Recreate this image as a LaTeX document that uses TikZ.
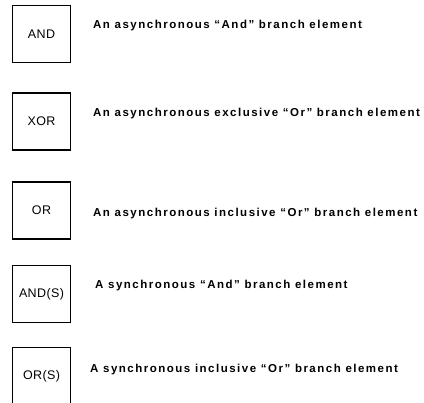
\documentclass[tikz,border=0pt]{standalone}
\usepackage{fontspec}
\setmainfont{Liberation Sans}
\newfontfamily\descfont[LetterSpace=13]{Liberation Sans}
\newfontfamily\boxfont[LetterSpace=3]{Liberation Sans}
\begin{document}
\begin{tikzpicture}[x=1pt,y=-1pt,
  elembox/.style={draw=black,line width=1.3pt,minimum width=58pt,minimum height=57pt,inner sep=0pt,font=\boxfont\fontsize{12.5}{13}\selectfont},
  desc/.style={anchor=base west,inner sep=0pt,font=\descfont\bfseries\fontsize{11.5}{13}\selectfont}]
\useasboundingbox (0,0) rectangle (424,403);
\node[elembox] (b1) at (41.5,34) {AND};
\node[elembox] (b2) at (41.5,121.5) {XOR};
\node[elembox] (b3) at (41.5,210.5) {OR};
\node[elembox] (b4) at (41.5,294) {AND(S)};
\node[elembox] (b5) at (41.5,376) {OR(S)};
\node[desc] (d1) at (93,29) {An asynchronous “And” branch element};
\node[desc] (d2) at (93,117) {An asynchronous exclusive “Or” branch element};
\node[desc] (d3) at (93,217) {An asynchronous inclusive “Or” branch element};
\node[desc] (d4) at (95,289) {A synchronous “And” branch element};
\node[desc] (d5) at (90,373) {A synchronous inclusive “Or” branch element};
\end{tikzpicture}
\end{document}
